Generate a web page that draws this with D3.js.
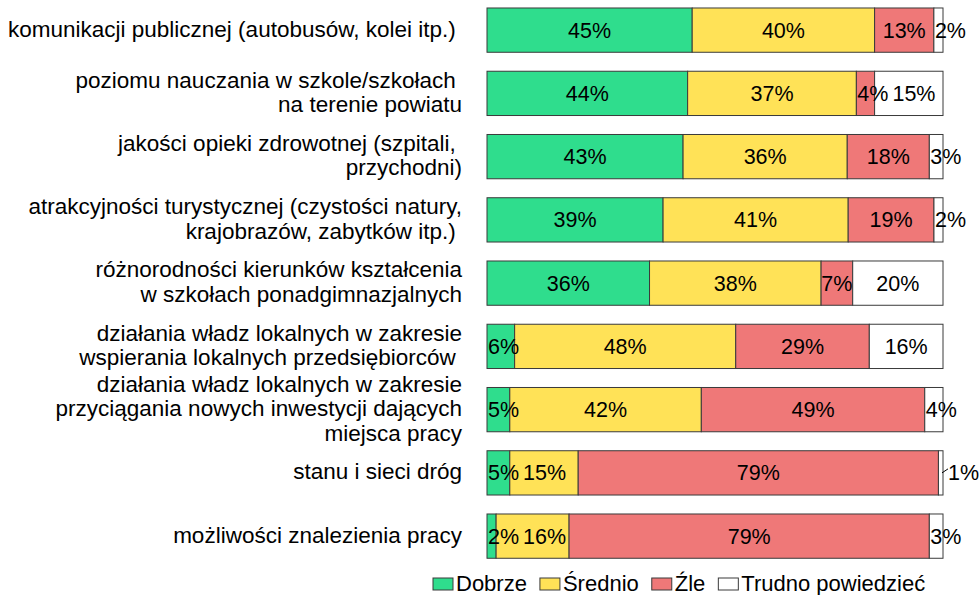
<!DOCTYPE html>
<html>
<head>
<meta charset="utf-8">
<script src="https://cdn.jsdelivr.net/npm/d3@7"></script>
<style>
  html, body { margin: 0; padding: 0; background: #ffffff; }
  svg text { font-family: "Liberation Sans", Arial, sans-serif; fill: #000; }
</style>
</head>
<body>
<svg id="chart" width="980" height="595"></svg>
<script>
// ---- data ----
const categories = [
  "komunikacji publicznej (autobusów, kolei itp.) ",
  "poziomu nauczania w szkole/szkołach |na terenie powiatu",
  "jakości opieki zdrowotnej (szpitali, |przychodni)",
  "atrakcyjności turystycznej (czystości natury,|krajobrazów, zabytków itp.) ",
  "różnorodności kierunków kształcenia|w szkołach ponadgimnazjalnych",
  "działania władz lokalnych w zakresie|wspierania lokalnych przedsiębiorców ",
  "działania władz lokalnych w zakresie|przyciągania nowych inwestycji dających|miejsca pracy",
  "stanu i sieci dróg",
  "możliwości znalezienia pracy"
];
const seriesNames = ["Dobrze", "Średnio", "Źle", "Trudno powiedzieć"];
const dobrze  = [45, 44, 43, 39, 36,  6,  5,  5,  2];
const srednio = [40, 37, 36, 41, 38, 48, 42, 15, 16];
const zle     = [13,  4, 18, 19,  7, 29, 49, 79, 79];
const trudno  = [ 2, 15,  3,  2, 20, 16,  4,  1,  3];
const colors  = ["#2fdd8d", "#ffe257", "#ef7878", "#ffffff"];

// ---- build table ----
const seriesValues = [dobrze, srednio, zle, trudno];
const rows = categories.map((c, i) => {
  const r = { category: c };
  seriesNames.forEach((s, j) => { r[s] = seriesValues[j][i]; });
  return r;
});

const stacked = d3.stack()
  .keys(seriesNames)
  .offset(d3.stackOffsetExpand)(rows);

// ---- scales ----
const svg = d3.select("#chart");
const valueFont = 21.5;
const catFont = 22.5;
const legendFont = 22;

const x = d3.scaleLinear().domain([0, 1]).range([487, 943]);
const y = d3.scaleBand()
  .domain(categories)
  .range([-1.5, 567.75])
  .paddingInner(0.3)
  .paddingOuter(0.15);

const color = d3.scaleOrdinal().domain(seriesNames).range(colors);

// ---- bars ----
const layers = svg.append("g").selectAll("g")
  .data(stacked)
  .join("g")
  .attr("fill", d => color(d.key));

layers.selectAll("rect")
  .data(d => d.map(v => ({ v, key: d.key })))
  .join("rect")
  .attr("x", d => x(d.v[0]))
  .attr("y", d => y(d.v.data.category))
  .attr("width", d => Math.max(0, x(d.v[1]) - x(d.v[0])))
  .attr("height", y.bandwidth())
  .attr("stroke", "#3a3a3a")
  .attr("stroke-width", 1);

// ---- value labels ----
const labelG = svg.append("g").attr("font-size", valueFont);
rows.forEach((row, ri) => {
  let prevEnd = -Infinity;
  stacked.forEach(layer => {
    const v = layer[ri];
    const val = row[layer.key];
    const x0 = x(v[0]), x1 = x(v[1]);
    const segW = x1 - x0;
    const cy = y(row.category) + y.bandwidth() / 2;
    const t = labelG.append("text")
      .attr("y", cy)
      .attr("dy", "0.35em")
      .attr("text-anchor", "start")
      .text(val + "%");
    const w = t.node().getComputedTextLength();
    let sx;
    if (segW < 5) {
      // tiny slice: label outside the bar with a leader line
      sx = x1 + 5;
      labelG.append("line")
        .attr("x1", x1 - 1).attr("y1", cy)
        .attr("x2", x1 + 5).attr("y2", cy - 4)
        .attr("stroke", "#000").attr("stroke-width", 1);
    } else if (w > segW) {
      sx = x0 + 1;
    } else {
      sx = (x0 + x1) / 2 - w / 2;
    }
    sx = Math.max(sx, prevEnd + 4);
    t.attr("x", sx);
    prevEnd = sx + w;
  });
});

// ---- category labels ----
const lineH = 24.5;
const catG = svg.append("g").attr("font-size", catFont);
categories.forEach(c => {
  const lines = c.split("|");
  const cy = y(c) + y.bandwidth() / 2;
  const startY = cy - (lines.length - 1) * lineH / 2;
  const t = catG.append("text")
    .attr("text-anchor", "end")
    .style("white-space", "pre");
  lines.forEach((ln, i) => {
    t.append("tspan")
      .attr("x", 462)
      .attr("y", startY + i * lineH + 6.5)
      .text(ln);
  });
});

// ---- legend ----
const legend = svg.append("g").attr("font-size", legendFont);
let lx = 433;
const ly = 591;
seriesNames.forEach(s => {
  legend.append("rect")
    .attr("x", lx).attr("y", ly - 13)
    .attr("width", 20).attr("height", 12)
    .attr("fill", color(s))
    .attr("stroke", "#3a3a3a").attr("stroke-width", 1);
  const t = legend.append("text")
    .attr("x", lx + 23).attr("y", ly)
    .text(s);
  lx += 23 + t.node().getComputedTextLength() + 13;
});
</script>
</body>
</html>
